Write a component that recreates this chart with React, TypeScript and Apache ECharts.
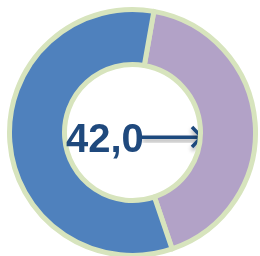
import React, { useEffect, useRef } from "react";
import * as echarts from "echarts";

const categories = ["Value", "Rest"];
const values = [42.0, 58.0];
const colors = ["#B2A2C7", "#4F81BD"];
const centerLabel = "42,0";

export default function App() {
  const ref = useRef<HTMLDivElement>(null);
  useEffect(() => {
    if (!ref.current) return;
    const chart = echarts.init(ref.current, null, { renderer: "svg" });
    chart.setOption({
      animation: false,
      series: [
        {
          type: "pie",
          z: 2,
          center: [132.5, 132.5],
          radius: [68, 123],
          startAngle: 80,
          clockwise: true,
          label: { show: false },
          labelLine: { show: false },
          emphasis: { disabled: true },
          itemStyle: { borderColor: "#D7E4BD", borderWidth: 5 },
          data: categories.map((c, i) => ({
            name: c,
            value: values[i],
            itemStyle: { color: colors[i] },
          })),
        },
      ],
      graphic: [
        {
          type: "rect",
          z: 1,
          shape: { x: 142, y: 135.5, width: 60, height: 3.5 },
          style: {
            fill: "#1F497D",
            shadowBlur: 4,
            shadowOffsetY: 3,
            shadowColor: "rgba(0,0,0,0.35)",
          },
        },
        {
          type: "polyline",
          z: 1,
          shape: { points: [[192, 127], [201.5, 137], [192, 147]] },
          style: {
            stroke: "#1F497D",
            fill: null,
            lineWidth: 3.5,
            shadowBlur: 4,
            shadowOffsetY: 3,
            shadowColor: "rgba(0,0,0,0.35)",
          },
        },
        {
          type: "text",
          z: 3,
          x: 66,
          y: 138,
          style: {
            text: centerLabel,
            fill: "#1F497D",
            font: "bold 40px 'Liberation Sans', Arial, sans-serif",
            align: "left",
            verticalAlign: "middle",
          },
        },
      ],
    });
    return () => chart.dispose();
  }, []);
  return (
    <div
      ref={ref}
      style={{ position: "fixed", left: 0, top: 0, width: 260, height: 256 }}
    />
  );
}
